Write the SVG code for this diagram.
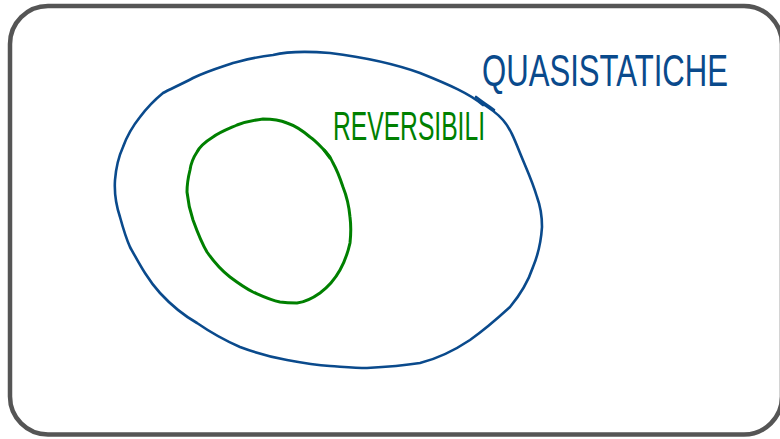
<svg xmlns="http://www.w3.org/2000/svg" width="780" height="439" viewBox="0 0 780 439">
<style>
.frame{fill:#ffffff;stroke:#555555;stroke-width:4.5}
.blue{fill:none;stroke:#0a4a8c;stroke-width:2.6;stroke-linecap:round;stroke-linejoin:round}
.green{fill:none;stroke:#008000;stroke-width:3;stroke-linecap:round;stroke-linejoin:round}
.lbl{font-family:"Liberation Sans Narrow","Liberation Sans",Arial,sans-serif;font-weight:normal}
</style>
<rect width="780" height="439" fill="#ffffff"/>
<rect class="frame" x="10" y="6" width="772" height="428.5" rx="38" ry="38"/>
<g id="quasistatiche">
<path class="blue" d="M483,105 C470,94 450,85 420,73 C395,64 370,58 330,53 C305,51 285,52 273,55 C255,57 245,60 233,63 C215,69 205,72 193,78 C180,85 170,89 163,93 C152,102 146,109 140,117 C132,127 127,136 123,147 C118,158 116,168 115,180 C114,195 116,205 120,217 C123,228 126,238 130,247 C140,265 148,280 160,293 C172,306 183,315 197,323 C210,332 224,340 240,347 C256,353 270,357 287,360 C303,363 315,365 330,366 C345,367 355,368 367,368 C385,367 400,366 420,363 C440,358 455,350 470,340 C487,328 498,318 510,307 C520,295 528,282 533,267 C538,255 541,242 542,227 C542,215 540,205 537,197 C532,180 526,168 520,153 C514,138 510,128 503,120 C497,113 490,108 478,101"/>
<path class="blue" d="M476,97 C482,102 488,105 494,110" stroke-width="3.2"/>
<text class="lbl" x="482" y="86" font-size="45" fill="#0a4a8c" textLength="246" lengthAdjust="spacingAndGlyphs">QUASISTATICHE</text>
</g>
<g id="reversibili">
<path class="green" d="M263,119 C255,120 245,122 237,125 C228,129 220,132 213,137 C205,142 200,146 197,152 C193,158 191,163 190,170 C188,178 187,185 187,192 C188,202 190,211 193,220 C197,231 201,242 207,252 C214,262 221,270 230,277 C238,283 245,288 253,292 C262,296 270,300 280,302 C287,303 292,303 297,303 C305,302 313,298 320,293 C328,287 335,279 340,270 C345,261 348,252 350,243 C351,234 351,225 350,217 C349,206 347,197 343,187 C340,178 337,170 333,163 C331,158 329,155 326,152 C320,146 316,141 310,137 C303,131 296,126 287,123 C280,120 271,119 263,119 Z"/>
<path class="green" d="M324,150 L330,158" stroke-width="3.6"/>
<text class="lbl" x="333" y="140" font-size="40" fill="#008000" textLength="152" lengthAdjust="spacingAndGlyphs">REVERSIBILI</text>
</g>
</svg>
